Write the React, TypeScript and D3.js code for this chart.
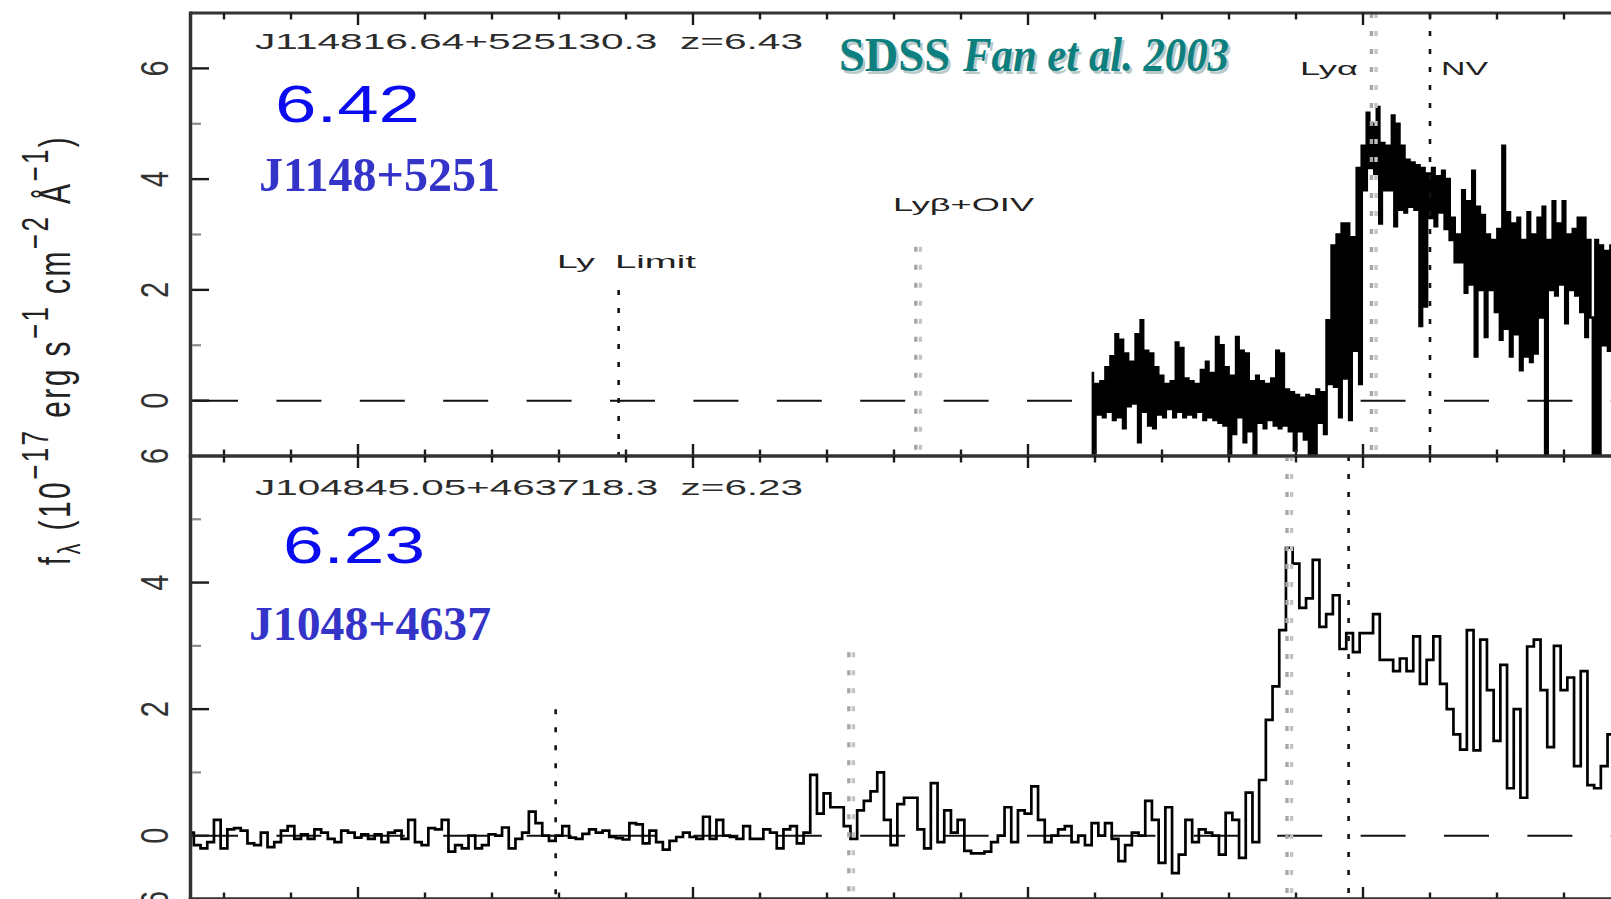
import React from 'react';
import * as d3 from 'd3';

const W = 1611;
const H = 899;

// Observed wavelength axis (Å)
const waveMin = 5500;
const waveMax = 10000;

// J1148+5251 (z = 6.42): sampled from 8190 Å in 7.5 Å steps, flux in 1e-17 erg/s/cm2/Å
const j1148Start = 8190;
const j1148Step = 7.5;
const j1148Flux = [
  0.5, -0.95, 0.3, -0.25, 0.35, -0.3, 0.6, -0.2, 0.8, -0.35,
  1.2, -0.3, 1.1, -0.5, 0.85, -0.1, 0.7, -0.05, 1.2, -0.75,
  1.45, -0.2, 0.9, -0.45, 0.85, -0.5, 0.6, -0.25, 0.45, -0.3,
  0.3, -0.15, 0.35, -0.3, 1.05, -0.2, 0.95, -0.3, 0.4, -0.25,
  0.35, -0.3, 0.3, -0.2, 0.55, -0.35, 0.7, -0.3, 0.5, -0.35,
  1.15, -0.4, 1.0, -0.45, 0.6, -1.0, 0.45, -0.6, 1.15, -0.3,
  0.9, -0.75, 0.85, -0.55, 0.35, -1.05, 0.45, -0.4, 0.35, -0.5,
  0.3, -0.35, 0.4, -0.45, 0.9, -0.5, 0.85, -0.45, 0.2, -0.55,
  0.15, -0.9, 0.1, -0.55, 0.05, -0.7, 0.1, -1.0, 0.08, -1.05,
  0.2, -0.4, 0.15, -0.6, 1.45, 0.3, 2.8, 0.25, 3.0, -0.3,
  3.2, 0.4, 3.2, -0.35, 2.95, 0.9, 4.2, 0.3, 4.6, 3.8,
  5.2, 4.2, 5.0, 4.1, 5.3, 3.2, 4.65, 3.8, 4.6, 3.8,
  5.15, 3.15, 5.0, 3.45, 4.6, 3.4, 4.35, 3.5, 4.3, 3.45,
  4.25, 1.35, 4.2, 1.7, 4.1, 3.3, 4.2, 3.15, 4.05, 3.4,
  4.15, 3.1, 4.0, 2.9, 3.3, 2.5, 3.0, 2.5, 3.8, 1.95,
  3.6, 2.1, 4.15, 0.8, 3.5, 2.0, 3.35, 1.15, 3.0, 2.0,
  2.9, 1.6, 3.1, 1.1, 4.6, 1.3, 3.4, 0.8, 3.2, 1.2,
  3.3, 0.55, 2.9, 0.8, 3.4, 0.7, 3.0, 0.85, 3.3, 1.5,
  3.5, -1.0, 2.9, 2.0, 3.6, 1.9, 3.2, 2.1, 3.6, 1.4,
  3.0, 2.0, 3.1, 1.9, 3.3, 1.6, 3.3, 1.15, 2.9, 1.5,
  -1.0, 2.9, -1.0, 2.8, 1.0, 2.7, 0.9, 2.8, 1.5, 2.6,
];

// J1048+4637 (z = 6.23): binned from 5500 Å in 20 Å steps
const j1048Start = 5500;
const j1048Step = 20;
const j1048Flux = [
  0.05, -0.15, -0.2, -0.1, 0.25, -0.2, 0.1, 0.12, 0.08, -0.12,
  -0.15, 0.05, -0.18, -0.1, 0.08, 0.15, -0.05, 0.02, -0.05, 0.1,
  0.05, -0.05, -0.1, 0.08, 0.05, -0.03, 0.02, -0.05, 0.02, -0.1,
  0.05, 0.08, -0.05, 0.25, -0.1, -0.15, 0.12, 0.1, 0.25, -0.25,
  -0.15, -0.2, 0.0, -0.2, -0.15, 0.02, 0.0, 0.13, -0.2, -0.05,
  0.05, 0.38, 0.2, 0.0, -0.08, 0.0, 0.15, -0.03, -0.05, 0.03,
  0.1, 0.05, 0.08, -0.02, -0.04, -0.06, 0.2, 0.18, -0.12, 0.08,
  -0.1, -0.22, -0.08, -0.02, 0.05, -0.02, -0.05, 0.3, -0.05, 0.25,
  0.0, -0.02, -0.05, 0.15, -0.05, -0.05, 0.1, 0.05, -0.2, 0.1,
  0.15, -0.12, 0.05, 0.96, 0.35, 0.67, 0.45, 0.45, 0.15, -0.05,
  0.4, 0.55, 0.7, 1.0, 0.25, -0.15, 0.5, 0.6, 0.6, 0.1,
  -0.2, 0.83, -0.1, 0.4, 0.05, 0.25, -0.24, -0.28, -0.28, -0.25,
  -0.1, 0.0, 0.45, -0.1, 0.4, 0.35, 0.78, 0.25, -0.1, 0.0,
  0.1, 0.15, -0.1, 0.0, -0.15, 0.2, 0.0, 0.2, -0.05, -0.4,
  -0.15, 0.05, 0.0, 0.55, 0.25, -0.43, 0.45, -0.59, -0.3, 0.25,
  -0.1, 0.1, 0.05, 0.0, -0.3, 0.36, 0.25, -0.35, 0.68, -0.1,
  0.88, 1.83, 2.36, 3.25, 4.55, 4.3, 3.6, 3.75, 4.36, 3.3,
  3.5, 3.8, 2.95, 3.2, 2.9, 3.2, 3.2, 3.5, 2.78, 2.78,
  2.6, 2.8, 2.6, 3.15, 2.4, 2.78, 3.15, 2.4, 2.0, 1.6,
  1.36, 3.25, 1.35, 3.1, 2.3, 1.5, 2.7, 0.75, 2.0, 0.6,
  2.99, 3.1, 2.3, 1.4, 3.0, 2.3, 2.5, 1.1, 2.6, 0.8,
  0.75, 1.1, 1.6, 1.7, 1.5,
];

// Line markers: observed wavelength, marker top in flux units (null = full height)
type Marker = { wave: number; top: number | null; tone: 'dark' | 'light' };
const j1148Markers: Marker[] = [
  { wave: 6778, top: 2.0, tone: 'dark' },
  { wave: 7672, top: 2.78, tone: 'light' },
  { wave: 9032, top: null, tone: 'light' },
  { wave: 9200, top: null, tone: 'dark' },
];
const j1048Markers: Marker[] = [
  { wave: 6590, top: 2.0, tone: 'dark' },
  { wave: 7472, top: 2.9, tone: 'light' },
  { wave: 8780, top: null, tone: 'light' },
  { wave: 8957, top: null, tone: 'dark' },
];

// Line names printed in the upper panel
const lineLabels = [
  { text: 'Ly', x: 557, y: 268, len: 38 },
  { text: 'Limit', x: 615, y: 268, len: 81 },
  { text: 'Lyβ+OIV', x: 893, y: 210.5, len: 141 },
  { text: 'Lyα', x: 1300, y: 75, len: 58 },
  { text: 'NV', x: 1441, y: 75, len: 47 },
];

const fluxTickLabels = [0, 2, 4, 6];

const x = d3.scaleLinear().domain([waveMin, waveMax]).range([190.5, 1698]);
const waveTicks = d3.range(5600, waveMax + 1, 200);

type Panel = {
  key: string;
  y0: number;
  y1: number;
  domain: [number, number];
  start?: number;
  step?: number;
  flux?: number[];
  width?: number;
  markers?: Marker[];
  id?: string;
  idY?: number;
  z?: string;
  zX?: number;
  zY?: number;
  zLen?: number;
  name?: string;
  nameX?: number;
  nameY?: number;
  nameLen?: number;
};

const panels: Panel[] = [
  {
    key: 'j1148', y0: 13, y1: 456, domain: [-1, 7],
    start: j1148Start, step: j1148Step, flux: j1148Flux, width: 2.6,
    markers: j1148Markers,
    id: 'J114816.64+525130.3  z=6.43', idY: 48.5,
    z: '6.42', zX: 275, zY: 122, zLen: 145,
    name: 'J1148+5251', nameX: 259, nameY: 191, nameLen: 241,
  },
  {
    key: 'j1048', y0: 456, y1: 899, domain: [-1, 6],
    start: j1048Start, step: j1048Step, flux: j1048Flux, width: 2.7,
    markers: j1048Markers,
    id: 'J104845.05+463718.3  z=6.23', idY: 495,
    z: '6.23', zX: 283, zY: 563, zLen: 142,
    name: 'J1048+4637', nameX: 249, nameY: 640, nameLen: 242,
  },
  // next panel of the stack begins at the lower edge
  { key: 'next', y0: 899, y1: 1342, domain: [-1, 6] },
];

const AXIS = '#333';
const SANS = 'Liberation Sans, Arial, Helvetica, sans-serif';
const SERIF = 'Liberation Serif, Times New Roman, serif';

function PanelView({ p }: { p: Panel }) {
  const y = d3.scaleLinear().domain(p.domain).range([p.y1, p.y0]);
  const clipId = `clip-${p.key}`;
  // spectra are drawn as histograms (one step per pixel bin)
  const line = d3
    .line<number>()
    .x((_, i) => x((p.start ?? 0) + i * (p.step ?? 1)))
    .y((d) => y(d))
    .curve(d3.curveStep);
  const yMinor = d3.range(Math.ceil(p.domain[0]) + 1, p.domain[1]).filter((v) => v % 2 !== 0);
  const yMajor = d3.range(Math.ceil(p.domain[0]) + 1, p.domain[1]).filter((v) => v % 2 === 0);

  return (
    <g>
      <clipPath id={clipId}>
        <rect x={192} y={p.y0} width={W} height={p.y1 - p.y0} />
      </clipPath>
      <g clipPath={`url(#${clipId})`}>
        {/* zero level */}
        <line x1={193} x2={W} y1={y(0)} y2={y(0)} stroke="#111" strokeWidth={2} strokeDasharray="45 38.4" />
        {p.flux && p.flux.length > 0 && (
          <path d={line(p.flux) ?? ''} fill="none" stroke="#000" strokeWidth={p.width} strokeLinejoin="miter" />
        )}
        {(p.markers ?? []).map((m, i) => {
          const mx = x(m.wave);
          const top = m.top === null ? p.y0 : y(m.top);
          if (m.tone === 'dark') {
            return (
              <line key={i} x1={mx} x2={mx} y1={top} y2={p.y1} stroke="#111" strokeWidth={2.6} strokeDasharray="5 13" />
            );
          }
          return (
            <g key={i}>
              <line x1={mx - 2.3} x2={mx - 2.3} y1={top} y2={p.y1} stroke="#a6a6a6" strokeWidth={3.4} strokeDasharray="5 13" />
              <line x1={mx + 2.3} x2={mx + 2.3} y1={top} y2={p.y1} stroke="#c4c4c4" strokeWidth={3.4} strokeDasharray="5 13" />
            </g>
          );
        })}
      </g>

      {/* frame */}
      <line x1={190.5} x2={W} y1={p.y0} y2={p.y0} stroke={AXIS} strokeWidth={3} />
      <line x1={190.5} x2={W} y1={p.y1} y2={p.y1} stroke={AXIS} strokeWidth={3} />
      <line x1={190.5} x2={190.5} y1={p.y0 - 1.5} y2={p.y1 + 1.5} stroke={AXIS} strokeWidth={3.5} />

      {/* wavelength ticks, top and bottom, pointing inward */}
      {waveTicks.map((w) => {
        const major = w % 1000 === 0;
        const len = major ? 12 : 6.5;
        const tx = x(w);
        return (
          <g key={w} stroke="#1a1a1a" strokeWidth={2.4}>
            <line x1={tx} x2={tx} y1={p.y0} y2={p.y0 + len} />
            <line x1={tx} x2={tx} y1={p.y1} y2={p.y1 - len} />
          </g>
        );
      })}

      {/* flux ticks */}
      {yMajor.map((v) => (
        <line key={`M${v}`} x1={192} x2={209} y1={y(v)} y2={y(v)} stroke="#1a1a1a" strokeWidth={2.4} />
      ))}
      {yMinor.map((v) => (
        <line key={`m${v}`} x1={192} x2={201} y1={y(v)} y2={y(v)} stroke="#8a8a8a" strokeWidth={2.2} />
      ))}
      {fluxTickLabels
        .filter((v) => v >= p.domain[0] && v <= p.domain[1])
        .map((v) => (
          <text
            key={`l${v}`}
            transform={`translate(168,${y(v)}) rotate(-90) scale(1,1.35)`}
            textAnchor="middle"
            fontFamily={SANS}
            fontSize={29}
            fill="#333"
          >
            {v}
          </text>
        ))}

      {p.id && (
        <text x={255} y={p.idY} fontFamily={SANS} fontSize={22} fill="#2c2c2c" textLength={548}
          lengthAdjust="spacingAndGlyphs" style={{ whiteSpace: 'pre' }}>
          {p.id}
        </text>
      )}
      {p.z && (
        <text x={p.zX} y={p.zY} fontFamily={SANS} fontSize={52} fill="#0b0bf0" textLength={p.zLen}
          lengthAdjust="spacingAndGlyphs">
          {p.z}
        </text>
      )}
      {p.name && (
        <text x={p.nameX} y={p.nameY} fontFamily={SERIF} fontWeight="bold" fontSize={48} fill="#3434c8"
          textLength={p.nameLen} lengthAdjust="spacingAndGlyphs">
          {p.name}
        </text>
      )}
    </g>
  );
}

export default function App() {
  return (
    <svg
      width={W}
      height={H}
      viewBox={`0 0 ${W} ${H}`}
      style={{ position: 'absolute', left: 0, top: 0, display: 'block', background: '#fff' }}
    >
      <rect width={W} height={H} fill="#fff" />
      {panels.map((p) => (
        <PanelView key={p.key} p={p} />
      ))}

      {lineLabels.map((l) => (
        <text key={l.text} x={l.x} y={l.y} fontFamily={SANS} fontSize={19} fill="#222" textLength={l.len}
          lengthAdjust="spacingAndGlyphs">
          {l.text}
        </text>
      ))}

      {/* survey credit with soft drop shadow */}
      <g fontFamily={SERIF} fontWeight="bold" fontSize={49}>
        <g fill="#b9c9c9" transform="translate(2.5,2.5)">
          <text x={839} y={71} textLength={111} lengthAdjust="spacingAndGlyphs">SDSS</text>
          <text x={963} y={71} fontStyle="italic" textLength={266} lengthAdjust="spacingAndGlyphs">Fan et al. 2003</text>
        </g>
        <g fill="#0e7f7f">
          <text x={839} y={71} textLength={111} lengthAdjust="spacingAndGlyphs">SDSS</text>
          <text x={963} y={71} fontStyle="italic" textLength={266} lengthAdjust="spacingAndGlyphs">Fan et al. 2003</text>
        </g>
      </g>

      {/* flux density axis title */}
      <text
        transform="translate(70,350) rotate(-90) scale(1,1.45)"
        textAnchor="middle"
        fontFamily={SANS}
        fontSize={30}
        letterSpacing={2.4}
        fill="#222"
        style={{ whiteSpace: 'pre' }}
      >
        f<tspan fontSize={22} dy={7}>λ</tspan>
        <tspan dy={-7}> (10</tspan>
        <tspan fontSize={26} dy={-15}>−17</tspan>
        <tspan dy={15}> erg s</tspan>
        <tspan fontSize={26} dy={-15}>−1</tspan>
        <tspan dy={15}> cm</tspan>
        <tspan fontSize={26} dy={-15}>−2</tspan>
        <tspan dy={15}> Å</tspan>
        <tspan fontSize={26} dy={-15}>−1</tspan>
        <tspan dy={15}>)</tspan>
      </text>
    </svg>
  );
}
